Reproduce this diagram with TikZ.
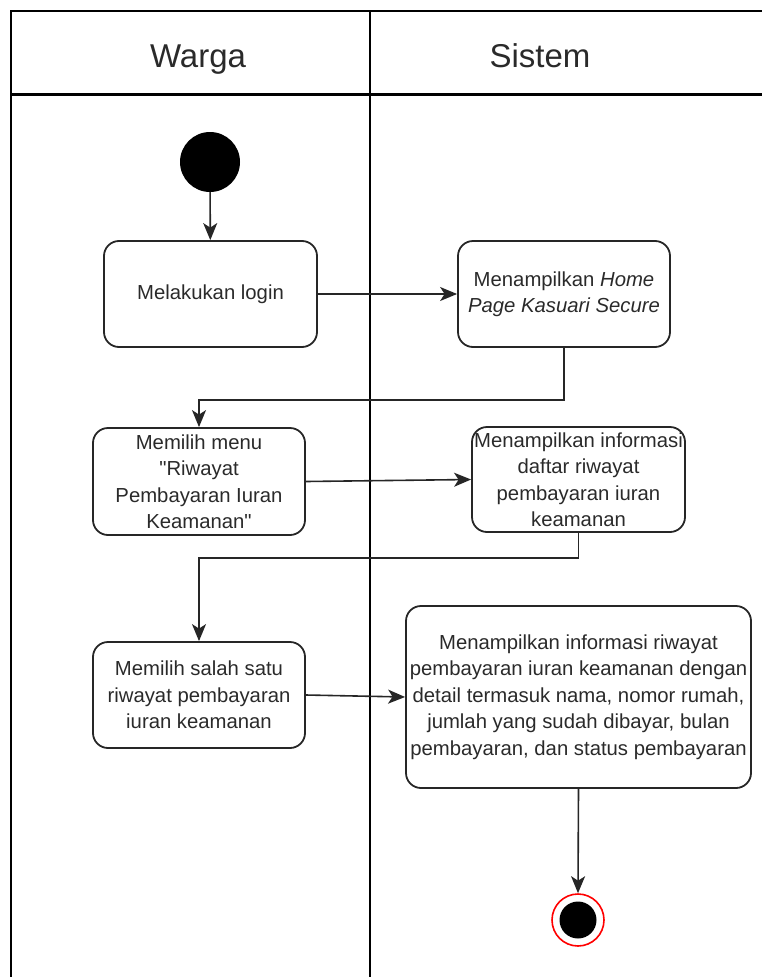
\documentclass[tikz,border=0pt]{standalone}
\usepackage{fontspec}
\setmainfont{Liberation Sans}[Ligatures=TeXOff]
\usetikzlibrary{arrows.meta}
\definecolor{txt}{HTML}{2A2A2A}
\definecolor{edge}{HTML}{262626}
\tikzset{
  lane/.style={line width=1.5pt, draw=black},
  act/.style={draw=edge, line width=1.8pt, rounded corners=15pt, align=center,
    inner sep=0pt, text=txt, font=\fontsize{20.3}{26.5}\selectfont},
  flow/.style={line width=1.6pt, draw=edge, -{Stealth[length=17pt,width=14pt,inset=4.5pt]}},
  head/.style={font=\fontsize{33}{36}\selectfont, text=txt, anchor=base}
}
\begin{document}
\begin{tikzpicture}[x=1pt,y=-1pt]
  \useasboundingbox (0,0) rectangle (762,977);
  % swimlane frame
  \draw[lane] (11,977) -- (11,11) -- (762,11);
  \draw[lane] (370,11) -- (370,977);
  \draw[line width=2.6pt] (11,94.5) -- (762,94.5);
  \node[head] (warga) at (198,67) {Warga};
  \node[head] (sistem) at (540,67) {Sistem};

  % initial node
  \node[circle, fill=black, minimum size=60pt, inner sep=0pt] (start) at (210,162) {};

  % actions
  \node[act, minimum width=213pt, minimum height=106pt] (login) at (210.5,294) {Melakukan login};
  \node[act, minimum width=212pt, minimum height=106pt] (home) at (564,294)
    {Menampilkan \textit{Home}\\\textit{Page Kasuari Secure}};
  \node[act, minimum width=212pt, minimum height=107pt] (menu) at (199,481.5)
    {Memilih menu\\"Riwayat\\Pembayaran Iuran\\Keamanan"};
  \node[act, minimum width=213pt, minimum height=105pt] (daftar) at (578.5,479.5)
    {Menampilkan informasi\\daftar riwayat\\pembayaran iuran\\keamanan};
  \node[act, minimum width=212pt, minimum height=106pt] (pilih) at (199,695)
    {Memilih salah satu\\riwayat pembayaran\\iuran keamanan};
  \node[act, minimum width=345pt, minimum height=182pt] (detail) at (578.5,697)
    {Menampilkan informasi riwayat\\pembayaran iuran keamanan dengan\\detail termasuk nama, nomor rumah,\\jumlah yang sudah dibayar, bulan\\pembayaran, dan status pembayaran};

  % final node
  \node[circle, draw=red, line width=1.6pt, fill=white, minimum size=52pt, inner sep=0pt] (end) at (578,920) {};
  \node[circle, fill=black, minimum size=37pt, inner sep=0pt] (endin) at (578,920) {};

  % bends of the elbow connectors
  \coordinate (b1) at (380,400);
  \coordinate (b2) at (380,558);

  % control flow
  \draw[flow] (start) -- (login);
  \draw[flow] (login) -- (home);
  \draw[flow] (home.south) |- (b1) -| (menu.north);
  \draw[flow] (menu.east) -- (daftar.west);
  \draw[flow] (daftar.south) |- (b2) -| (pilih.north);
  \draw[flow] (pilih.east) -- (detail.west);
  \draw[flow] (detail.south) -- (end.north);
\end{tikzpicture}
\end{document}
